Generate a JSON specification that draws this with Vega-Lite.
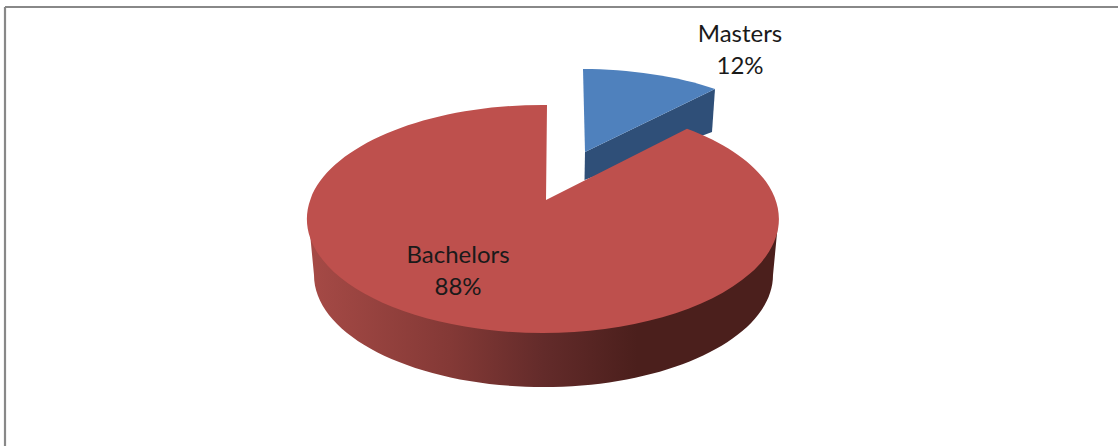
{
  "$schema": "https://vega.github.io/schema/vega-lite/v6.json",
  "width": 1118,
  "height": 446,
  "padding": 0,
  "autosize": "none",
  "background": "white",
  "config": {"view": {"stroke": null}},
  "data": {"values": [
    {"category": "Bachelors", "share": 88, "label": "Bachelors\n88%"},
    {"category": "Masters", "share": 12, "label": "Masters\n12%"}
  ]},
  "encoding": {
    "x": {"field": "share", "type": "quantitative", "axis": null, "scale": {"domain": [12, 88], "range": [643, 543]}}
  },
  "layer": [
    {"transform": [{"filter": "datum.category === 'Bachelors'"}],
     "mark": {"type": "point", "filled": false, "size": 4, "opacity": 1, "stroke": "#888888", "strokeWidth": 2.2,
       "shape": "M-538,-216 L1200,-216 M-538,-216 L-538,400"}},
    {"transform": [{"filter": "datum.category === 'Masters'"}],
     "mark": {"type": "point", "filled": true, "size": 4, "opacity": 1, "fill": "#2F4F78",
       "shape": "M72,-134 L69,-91 L-58.5,-43 L-58,-71 Z"}},
    {"transform": [{"filter": "datum.category === 'Masters'"}],
     "mark": {"type": "point", "filled": true, "size": 4, "opacity": 1, "fill": "#4F81BD",
       "shape": "M-60,-154 C-15,-154 35,-147 72,-134 L-58,-71 Z"}},
    {"transform": [{"filter": "datum.category === 'Bachelors'"}],
     "mark": {"type": "point", "filled": true, "size": 4, "opacity": 1,
       "fill": {"gradient": "linear", "x1": 0, "y1": 0, "x2": 1, "y2": 0, "stops": [
         {"offset": 0, "color": "#A64A46"},
         {"offset": 0.3, "color": "#843936"},
         {"offset": 0.5, "color": "#632B2A"},
         {"offset": 0.7, "color": "#4B1F1C"},
         {"offset": 1, "color": "#4B1F1C"}
       ]},
       "shape": "M-234,0 L-229,52 A229.5 112 0 0 0 230,52 L235,0 Z"}},
    {"transform": [{"filter": "datum.category === 'Bachelors'"}],
     "mark": {"type": "point", "filled": true, "size": 4, "opacity": 1, "fill": "#BE504D",
       "shape": "M3,-23 L4,-118 A236 114 0 1 0 144,-94.3 Z"}},
    {"transform": [{"filter": "datum.category === 'Masters'"}],
     "mark": {"type": "text", "font": "Lato", "fontSize": 24, "color": "#1A1A1A", "align": "center", "baseline": "middle", "lineBreak": "\n", "lineHeight": 32, "dx": 97, "dy": -188},
     "encoding": {"text": {"field": "label"}}},
    {"transform": [{"filter": "datum.category === 'Bachelors'"}],
     "mark": {"type": "text", "font": "Lato", "fontSize": 24, "color": "#1A1A1A", "align": "center", "baseline": "middle", "lineBreak": "\n", "lineHeight": 32, "dx": -85, "dy": 33},
     "encoding": {"text": {"field": "label"}}}
  ]
}
